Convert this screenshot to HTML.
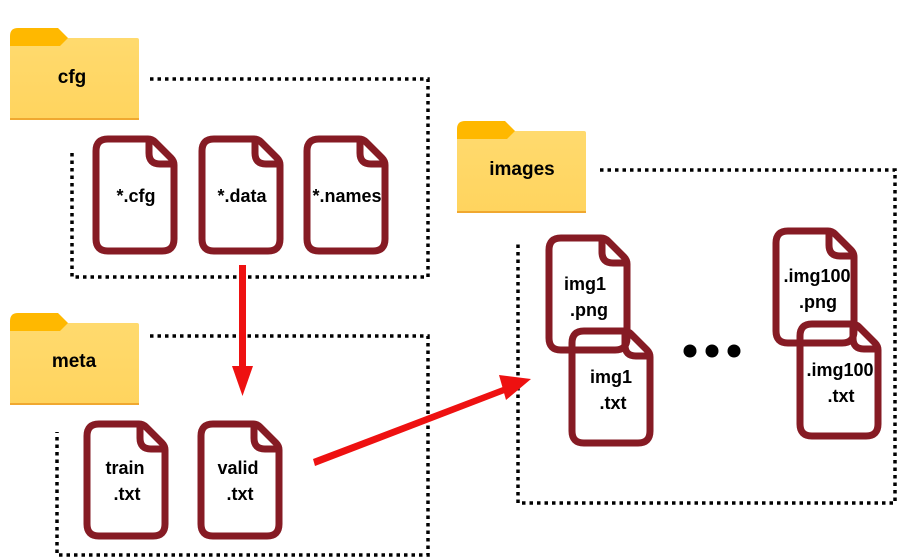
<!DOCTYPE html>
<html><head><meta charset="utf-8"><style>
html,body{margin:0;padding:0;background:#fff;}
svg{display:block;}
text{font-family:"Liberation Sans",sans-serif;fill:#000;}
</style></head><body>
<svg width="898" height="557" viewBox="0 0 898 557" xmlns="http://www.w3.org/2000/svg">
<defs>
<linearGradient id="fg" x1="0" y1="0" x2="0" y2="1"><stop offset="0" stop-color="#FFDA6E"/><stop offset="1" stop-color="#FFD45E"/></linearGradient>
<path id="doc" d="M12 0 H52 Q56 0 59 3 L75 19 Q78 22 78 26 V100 Q78 112 66 112 H12 Q0 112 0 100 V12 Q0 0 12 0 Z M53 1 V14 Q53 25 64 25 H77" fill="none" stroke="#861B24" stroke-width="7" stroke-linejoin="round"/>
</defs>
<g fill="none" stroke="#000" stroke-width="3.5" stroke-dasharray="3.5 4">
<path d="M150 79 H428 V277 H72 V150"/>
<path d="M150 336 H428 V555 H57 V432"/>
<path d="M600 170 H895 V503 H518 V243"/>
</g>
<g>
<path d="M10 36 Q10 28 18 28 H58 L68 38 H10 Z" fill="#FFB800"/>
<rect x="10" y="38" width="129" height="82" rx="2" fill="url(#fg)"/>
<path d="M10 46 H60 L68 38 H10 Z" fill="#FFB800"/>
<rect x="10" y="118" width="129" height="2" fill="#F0A830"/>
<text x="72" y="83" font-size="19" font-weight="bold" text-anchor="middle">cfg</text>
<path d="M10 321 Q10 313 18 313 H58 L68 323 H10 Z" fill="#FFB800"/>
<rect x="10" y="323" width="129" height="82" rx="2" fill="url(#fg)"/>
<path d="M10 331 H60 L68 323 H10 Z" fill="#FFB800"/>
<rect x="10" y="403" width="129" height="2" fill="#F0A830"/>
<text x="74" y="367" font-size="19" font-weight="bold" text-anchor="middle">meta</text>
<path d="M457 129 Q457 121 465 121 H505 L515 131 H457 Z" fill="#FFB800"/>
<rect x="457" y="131" width="129" height="82" rx="2" fill="url(#fg)"/>
<path d="M457 139 H507 L515 131 H457 Z" fill="#FFB800"/>
<rect x="457" y="211" width="129" height="2" fill="#F0A830"/>
<text x="522" y="175" font-size="19" font-weight="bold" text-anchor="middle">images</text>
</g>
<use href="#doc" x="96" y="139"/>
<use href="#doc" x="202" y="139"/>
<use href="#doc" x="307" y="139"/>
<use href="#doc" x="87" y="424"/>
<use href="#doc" x="201" y="424"/>
<use href="#doc" x="549" y="238"/>
<use href="#doc" x="572" y="331"/>
<use href="#doc" x="776" y="231"/>
<use href="#doc" x="800" y="324"/>
<g font-size="18" text-anchor="middle" font-weight="600">
<text x="136" y="202">*.cfg</text>
<text x="242" y="202">*.data</text>
<text x="347" y="202">*.names</text>
<text x="125" y="474">train</text>
<text x="127" y="500">.txt</text>
<text x="238" y="474">valid</text>
<text x="240" y="500">.txt</text>
<text x="585" y="290">img1</text>
<text x="589" y="316">.png</text>
<text x="611" y="383">img1</text>
<text x="613" y="409">.txt</text>
<text x="817" y="282">.img100</text>
<text x="818" y="308">.png</text>
<text x="840" y="376">.img100</text>
<text x="841" y="402">.txt</text>
</g>
<circle cx="690" cy="351" r="6.5" fill="#000"/>
<circle cx="712" cy="351" r="6.5" fill="#000"/>
<circle cx="734" cy="351" r="6.5" fill="#000"/>
<g fill="#EE1111" stroke="none">
<rect x="239" y="265" width="7" height="105"/>
<path d="M232 366 H253 L242.5 396 Z"/>
<path d="M313 459 L508 385 L510 391 L315 466 Z"/>
<path d="M499 375 L531 379 L506 400 Z"/>
</g>
</svg>
</body></html>
